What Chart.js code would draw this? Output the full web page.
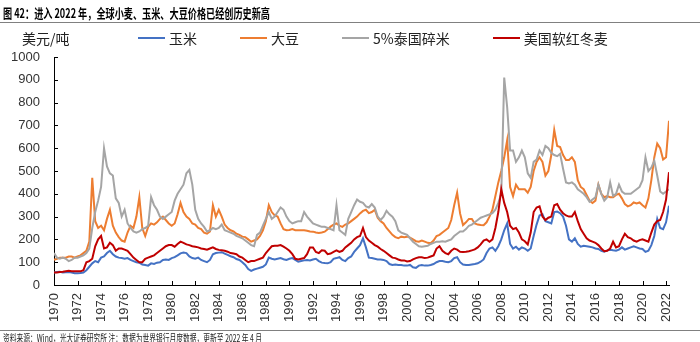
<!DOCTYPE html>
<html>
<head>
<meta charset="utf-8">
<script src="https://cdn.jsdelivr.net/npm/chart.js@4.4.0/dist/chart.umd.min.js"></script>
<style>
  body { margin: 0; width: 700px; height: 342px; position: relative; overflow: hidden; background: #fff;
         font-family: "Noto Sans CJK SC", sans-serif; color: #000; }
  canvas { position: absolute; left: 0; top: 0; }
  #title { position: absolute; left: 3px; top: 5px; font-size: 13px; line-height: 15px; font-weight: bold;
           white-space: nowrap; transform-origin: 0 0; }
  .rule { position: absolute; left: 0; width: 700px; height: 1px; background: #808080; }
  #unit { position: absolute; left: 22px; top: 30px; font-size: 14px; line-height: 16px; color: #222; }
  #legend { position: absolute; left: 138px; top: 30px; display: flex; gap: 43px; font-size: 14px; line-height: 16px; color: #222; }
  .item { display: flex; align-items: center; gap: 4px; white-space: nowrap; }
  .swatch { width: 27px; height: 2px; }
  #note { position: absolute; left: 3px; top: 332px; font-size: 10px; line-height: 11px; white-space: nowrap;
          transform-origin: 0 0; color: #222; }
</style>
</head>
<body>
<canvas id="chart" width="700" height="342"></canvas>
<div id="title">图 42：进入 2022 年，全球小麦、玉米、大豆价格已经创历史新高</div>
<div class="rule" style="top:22px"></div>
<div id="unit">美元/吨</div>
<div id="legend"></div>
<div class="rule" style="top:330px"></div>
<div id="note">资料来源：Wind，光大证券研究所 注：数据为世界银行月度数据，更新至 2022 年 4 月</div>
<script>
// quarterly samples, Jan 1970 .. Apr 2022
const quarters = [];
for (let q = 1970; q <= 2022.25; q += 0.25) quarters.push(q);

const yearTicks = { min: 1970, max: 2022.25, step: 2 };

const corn = [
  55, 57, 58, 55,   56, 57, 55, 52,   52, 53, 55, 65,   80, 95, 105, 100,
  120, 125, 140, 150,   135, 125, 120, 118,   115, 118, 110, 105,   100, 98, 90, 88,
  85, 95, 92, 98,   100, 110, 112, 110,   118, 122, 130, 139,   142, 140, 125, 118,
  115, 120, 110, 105,   100, 110, 135, 140,   142, 144, 138, 132,   126, 122, 114, 110,
  100, 88, 70, 62,   68, 72, 76, 80,   90, 120, 115, 112,   115, 118, 113, 110,
  115, 118, 110, 102,   105, 108, 110, 108,   112, 115, 105, 98,   96, 95, 100, 115,
  118, 122, 110, 105,   118, 125, 145, 160,   175, 205, 165, 120,   118, 115, 112, 112,
  110, 105, 92, 88,   90, 88, 88, 85,   85, 88, 78, 75,   85, 88, 85, 85,
  88, 92, 100, 105,   105, 102, 100, 105,   118, 122, 100, 90,   88, 88, 90, 92,
  95, 102, 112, 140,   160, 165, 150, 170,   200, 240, 270, 180,   160, 168, 155, 165,
  160, 150, 160, 215,   265, 305, 310, 280,   275, 270, 320, 322,   315, 300, 260, 200,
  190, 205, 180, 168,   172, 170, 168, 165,   160, 158, 150, 146,   152, 155, 152, 150,
  155, 165, 155, 160,   165, 170, 165, 160,   158, 145, 150, 175,   215, 290, 250, 245,
  275, 348
];

const soybean = [
  110, 115, 120, 120,   120, 125, 125, 120,   125, 130, 140, 150,   190, 470, 280, 250,
  260, 240, 290, 330,   260, 230, 210, 195,   190, 230, 260, 250,   300, 385, 250, 215,
  255, 270, 265, 275,   290, 300, 285, 270,   260, 270, 310, 360,   320, 300, 290, 270,
  265, 250, 245, 230,   225, 235, 350, 300,   330, 300, 265, 250,   240, 235, 225, 220,
  212, 210, 200, 190,   195, 200, 215, 240,   280, 350, 320, 305,   300, 270, 245, 240,
  241, 245, 240, 240,   240, 240, 238, 235,   234, 230, 228, 230,   234, 245, 256, 265,
  270, 260, 255, 265,   270, 280, 290, 300,   314, 325, 330, 315,   320, 330, 295, 280,
  270, 250, 235, 220,   210, 205, 212, 210,   212, 208, 200, 192,   190, 195, 190, 185,
  183, 195, 215, 220,   230, 240, 250, 285,   350, 405, 314, 263,   275, 290, 290, 270,
  265, 263, 262, 275,   300, 330, 390, 450,   500, 560, 635, 430,   390, 440, 420, 420,
  420, 405, 430, 500,   540, 560, 540, 480,   500, 570, 680, 610,   605, 570, 548, 548,
  560, 540, 460, 430,   420, 395, 370, 360,   370, 440, 400, 385,   390, 385, 385, 395,
  400, 380, 355, 345,   350, 362, 358, 362,   350, 340, 380, 460,   560, 620, 600, 550,
  560, 720
];

const rice = [
  140, 120, 115, 120,   115, 105, 110, 120,   120, 125, 130, 140,   160, 250, 320, 370,
  430, 600, 520, 490,   480, 380, 360, 300,   330, 270, 250, 235,   230, 235, 245, 250,
  260, 385, 350, 330,   300, 290, 300, 310,   320, 370, 400, 420,   440, 490, 505, 440,
  330, 290, 270, 255,   235, 240, 250, 245,   250, 265, 240, 235,   230, 225, 215, 210,
  205, 195, 185, 175,   170, 220, 230, 260,   290, 320, 290, 300,   320, 340, 330, 300,
  280, 270, 275, 280,   280, 320, 300, 285,   270, 265, 260, 255,   255, 250, 245, 240,
  350, 240, 230, 220,   290, 320, 350, 375,   365, 360, 345, 340,   355, 340, 300, 285,
  300, 325, 310, 300,   280, 240, 230, 225,   220, 205, 190, 180,   170, 168, 170, 172,
  180, 185, 190, 190,   192, 190, 195, 200,   215, 225, 235, 235,   245, 260, 265, 275,
  285, 295, 300, 305,   310, 315, 330, 360,   400, 910, 780, 590,   590, 540, 560, 590,
  560, 490, 470, 540,   550, 590, 570, 610,   600, 580, 570, 565,   575, 510, 450, 445,
  450, 440, 420, 410,   400, 385, 365, 375,   385, 440, 400, 370,   385, 450, 390, 400,
  440, 410, 400, 400,   400, 410, 420, 430,   460, 560, 500, 515,   545, 480, 410, 400,
  410, 420
];

const wheat = [
  55, 55, 57, 58,   60, 62, 60, 60,   60, 60, 65, 100,   105, 115, 170, 200,
  215, 160, 165, 185,   175, 150, 160, 160,   155, 150, 135, 120,   110, 100, 100, 115,
  120, 125, 130, 140,   150, 160, 170, 175,   175, 168, 180, 190,   185, 178, 175, 170,
  168, 165, 160, 158,   155, 160, 165, 158,   154, 152, 150, 146,   140, 138, 135, 125,
  120, 110, 100, 105,   105, 110, 115, 120,   140, 155, 170, 172,   172, 175, 168, 160,
  150, 135, 115, 112,   115, 118, 135, 165,   165, 145, 140, 152,   150, 135, 138, 145,
  152, 145, 150, 165,   175, 185, 200, 210,   215, 250, 210, 195,   185, 175, 168, 158,
  150, 140, 130, 120,   118, 112, 108, 108,   103, 105, 112, 118,   122, 122, 118, 120,
  125, 130, 160, 170,   150, 140, 135, 150,   160, 155, 146, 145,   146, 148, 152, 156,
  165, 178, 195, 200,   190, 200, 250, 320,   420, 360, 320, 260,   245, 250, 230, 200,
  192, 178, 230, 320,   340, 345, 300, 285,   295, 300, 350, 355,   330, 315, 305, 300,
  300, 320, 280, 245,   225, 205, 195, 190,   185, 175, 160, 148,   150, 160, 190, 165,
  170, 200, 225, 210,   205, 195, 190, 197,   200, 195, 190, 230,   265, 280, 285, 320,
  375, 495
];

function toPoints(values) {
  return values.map((v, i) => ({ x: quarters[i], y: v }));
}

function series(label, values, color, order) {
  return {
    label, data: toPoints(values), borderColor: color, backgroundColor: color,
    borderWidth: 2, pointRadius: 0, tension: 0, order
  };
}

const innerTicks = {
  id: "innerTicks",
  afterDatasetsDraw(chart) {
    const { ctx, chartArea, scales: { x, y } } = chart;
    ctx.save();
    ctx.strokeStyle = "#000";
    ctx.lineWidth = 1;
    ctx.beginPath();
    y.ticks.forEach((t, i) => {
      const py = Math.round(y.getPixelForTick(i)) + 0.5;
      ctx.moveTo(chartArea.left, py);
      ctx.lineTo(chartArea.left + 4, py);
    });
    x.ticks.forEach((t, i) => {
      const px = Math.round(x.getPixelForTick(i)) + 0.5;
      ctx.moveTo(px, chartArea.bottom);
      ctx.lineTo(px, chartArea.bottom - 4);
    });
    ctx.stroke();
    ctx.restore();
  }
};

const tickFont = { family: "'Liberation Sans', Arial, sans-serif", size: 13 };

const chart = new Chart(document.getElementById("chart"), {
  type: "line",
  data: {
    datasets: [
      series("玉米", corn, "#4472C4", 3),
      series("大豆", soybean, "#ED7D31", 2),
      series("5%泰国碎米", rice, "#A5A5A5", 1),
      series("美国软红冬麦", wheat, "#C00000", 0)
    ]
  },
  options: {
    responsive: false,
    animation: false,
    layout: { padding: { left: 11, right: 31, top: 57, bottom: 19 } },
    plugins: { legend: { display: false }, tooltip: { enabled: false } },
    scales: {
      x: {
        type: "linear", min: yearTicks.min, max: yearTicks.max,
        grid: { display: false, drawTicks: false },
        border: { display: true, color: "#000", width: 1 },
        afterFit: s => { s.height = 38; },
        ticks: {
          stepSize: yearTicks.step, includeBounds: false, autoSkip: false,
          minRotation: 90, maxRotation: 90, padding: 8,
          color: "#333", font: tickFont, callback: v => String(v)
        }
      },
      y: {
        min: 0, max: 1000,
        grid: { display: false, drawTicks: false },
        border: { display: true, color: "#000", width: 1 },
        afterFit: s => { s.width = 43; },
        ticks: { stepSize: 100, padding: 14, color: "#333", font: tickFont, callback: v => String(v) }
      }
    }
  },
  plugins: [innerTicks]
});

// html legend from the datasets
const legend = document.getElementById("legend");
chart.data.datasets.forEach(ds => {
  const item = document.createElement("div");
  item.className = "item";
  const sw = document.createElement("span");
  sw.className = "swatch";
  sw.style.background = ds.borderColor;
  const txt = document.createElement("span");
  txt.textContent = ds.label;
  item.appendChild(sw);
  item.appendChild(txt);
  legend.appendChild(item);
});

function fitWidth(id, w) {
  const el = document.getElementById(id);
  const natural = el.getBoundingClientRect().width;
  el.style.transform = "scaleX(" + (w / natural) + ")";
}
fitWidth("title", 267);
fitWidth("note", 259);
</script>
</body>
</html>
